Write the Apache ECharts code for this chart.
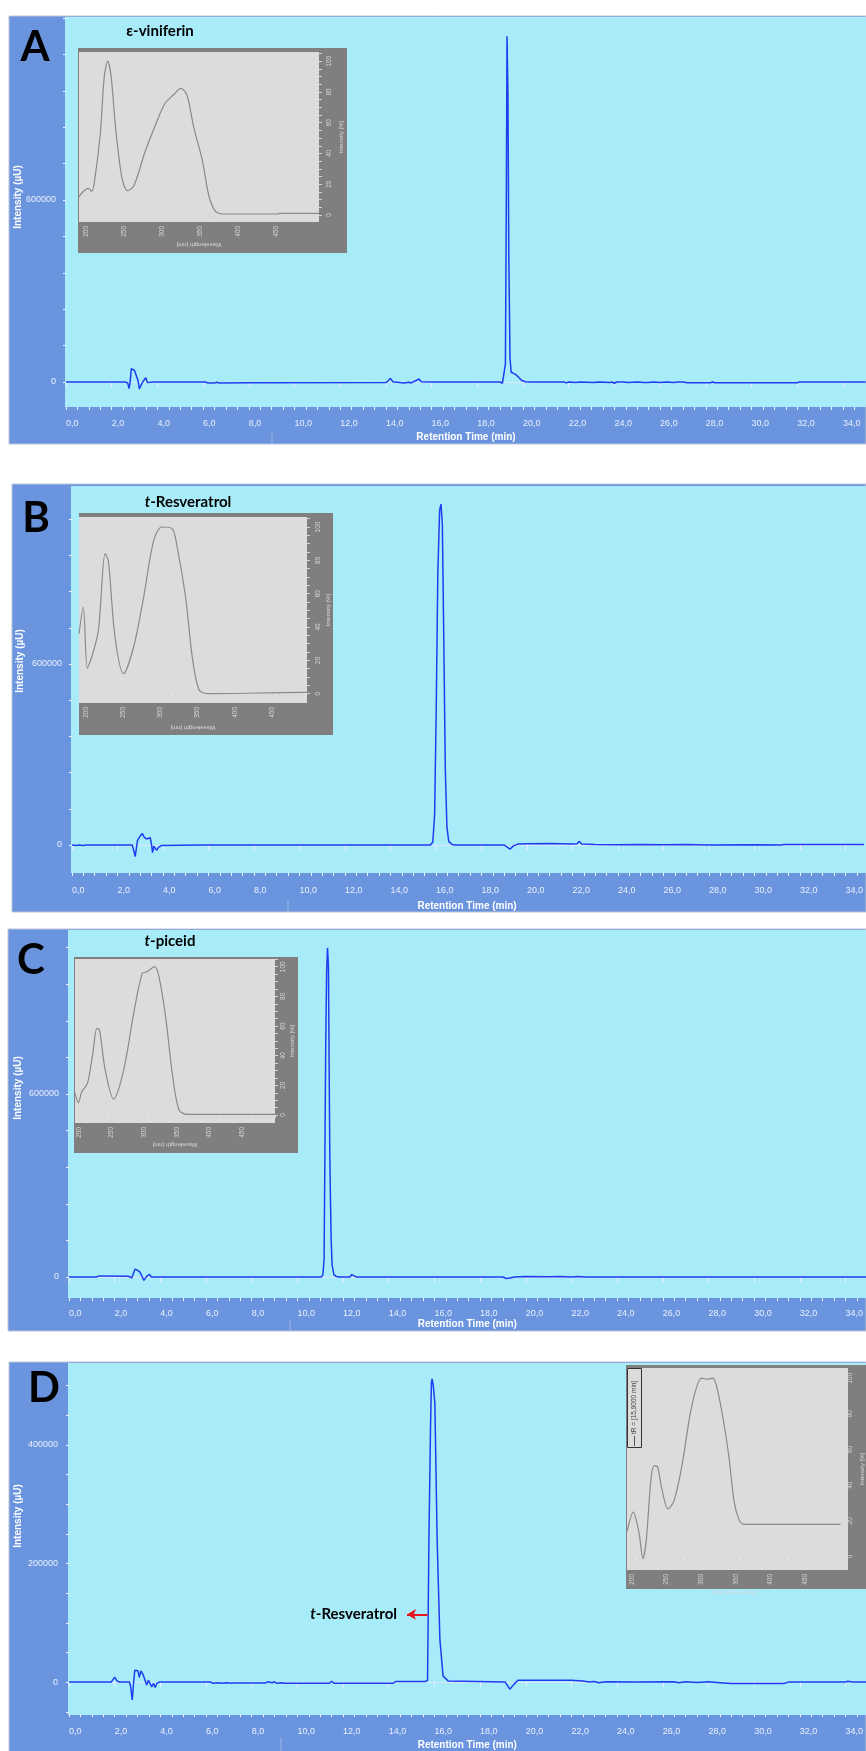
<!DOCTYPE html>
<html><head><meta charset="utf-8">
<script src="https://cdn.jsdelivr.net/npm/echarts@6/dist/echarts.min.js"></script>
<style>html,body{margin:0;padding:0;background:#fff}#c{width:866px;height:1751px}</style>
</head><body><div id="c"></div>
<script>
// ---------- DATA ----------
// Chromatograms: [retention time (min), intensity (µU)]
const chromA = [[0,0],[2.6,0],[2.7,-3000],[2.76,-22000],[2.8,-5000],[2.86,44000],[2.92,42000],[3.0,38000],[3.08,32000],[3.15,5000],[3.21,-23000],[3.3,-8000],[3.4,5000],[3.49,14000],[3.56,-2000],[3.62,-8000],[3.7,-1000],[3.8,0],[6.1,0],[6.2,-3000],[6.5,-3000],[6.6,-1000],[6.7,-3000],[8.0,-2500],[14.0,-2000],[14.1,4000],[14.2,12000],[14.3,1000],[14.6,-2000],[14.8,-3500],[15.0,-1000],[15.1,-3000],[15.3,4000],[15.45,10000],[15.55,1000],[16.0,0],[19.0,0],[19.1,-4000],[19.18,-7000],[19.23,60000],[19.27,600000],[19.3,1140000],[19.34,950000],[19.38,400000],[19.43,80000],[19.48,32000],[19.55,27000],[19.65,26000],[19.75,20000],[19.85,12000],[19.95,5000],[20.1,1000],[20.3,0],[21.3,0],[21.35,2000],[21.4,0],[21.8,0],[21.9,-3000],[22.0,0],[22.3,-2000],[22.5,0],[23.1,-1500],[23.3,0],[23.8,-2000],[23.9,0],[24.0,-4000],[24.1,0],[24.4,0],[24.6,-2000],[25.0,0],[25.3,-2000],[25.5,-2000],[25.7,0],[26.0,-2000],[26.3,0],[26.6,-2000],[26.8,0],[27.0,0],[27.2,-2500],[28.2,-2500],[28.3,0],[28.4,-2500],[32.0,-2500],[32.1,0],[35.0,0]];
const chromB = [[0,0],[0.2,-2000],[0.3,0],[0.5,-2000],[0.6,0],[2.65,0],[2.72,-5000],[2.78,-38000],[2.83,-10000],[2.88,15000],[3.0,30000],[3.09,38000],[3.18,25000],[3.27,20000],[3.35,22000],[3.44,24000],[3.5,0],[3.54,-25000],[3.6,-4000],[3.65,-2000],[3.72,-18000],[3.8,-8000],[3.92,-2000],[4.0,0],[5.6,0],[5.65,-2500],[5.75,0],[15.76,0],[15.86,10000],[15.94,100000],[16.01,450000],[16.08,900000],[16.16,1110000],[16.22,1130000],[16.28,1060000],[16.34,700000],[16.41,250000],[16.48,60000],[16.56,12000],[16.7,2000],[16.85,0],[19.0,0],[19.15,-8000],[19.25,-14000],[19.4,-3000],[19.6,3000],[20.0,4000],[21.0,5000],[21.5,4000],[22.0,3000],[22.2,4000],[22.3,12000],[22.4,3000],[23.0,2000],[24.0,1000],[25.0,2000],[26.0,1000],[27.0,1500],[28.0,0],[30.0,500],[31.2,0],[31.3,2000],[35,2000]];
const chromC = [[0,0],[1.2,0],[1.3,3000],[1.5,3000],[1.55,2500],[2.6,2500],[2.75,-3000],[2.8,-6500],[2.89,26000],[3.0,22000],[3.1,17000],[3.18,5000],[3.28,-11000],[3.4,2000],[3.52,9000],[3.6,0],[3.65,-5000],[3.75,0],[11.05,0],[11.12,8000],[11.17,60000],[11.2,350000],[11.24,750000],[11.28,1000000],[11.32,1079000],[11.36,1020000],[11.39,700000],[11.42,400000],[11.45,250000],[11.48,120000],[11.52,40000],[11.6,8000],[11.7,2000],[11.85,0],[12.3,0],[12.38,8000],[12.44,14000],[12.5,3000],[12.6,0],[19.0,0],[19.15,-5000],[19.3,-3000],[19.5,0],[20.0,1500],[21.0,1000],[21.5,2000],[22.0,0],[22.3,1500],[22.6,0],[35,0]];
const chromD = [[0,0],[1.85,0],[2.0,8400],[2.1,2000],[2.2,0],[2.65,0],[2.7,-8000],[2.77,-30000],[2.82,-5000],[2.88,20000],[2.95,17000],[3.02,19000],[3.08,8000],[3.15,19000],[3.25,12000],[3.32,13000],[3.4,-5000],[3.48,3000],[3.56,0],[3.62,-8000],[3.7,-2000],[3.77,-9000],[3.85,-2000],[3.95,0],[6.2,0],[6.3,-2000],[6.5,-1000],[6.7,-2000],[6.9,-1000],[7.1,-2000],[7.2,-1500],[8.6,-1500],[8.7,500],[8.9,-1000],[9.0,500],[9.1,-2000],[9.3,-1000],[9.4,-2000],[11.4,-2000],[11.5,1500],[11.6,-2000],[14.2,-2000],[14.3,1000],[15.6,1000],[15.7,3000],[15.76,240000],[15.83,430000],[15.87,505000],[15.9,511000],[15.95,500000],[16.02,470000],[16.12,240000],[16.24,72000],[16.38,10000],[16.6,2000],[19.1,0],[19.3,-12000],[19.5,-3000],[19.66,3000],[22.0,3000],[22.5,2000],[22.8,0],[23.0,1000],[23.2,-1000],[23.5,500],[24.8,0],[26.5,500],[26.7,-1000],[27.0,500],[27.5,-500],[28.0,500],[28.5,-1000],[29.0,-2500],[31.3,-2500],[31.5,0],[34.0,0],[34.1,1500],[34.3,0],[34.92,0]];

// UV spectra insets: [wavelength (nm), intensity (%)]
const specA = [[190.6,11.9],[196.4,15.2],[203,17.3],[207.6,15.2],[212,24.9],[218.8,53],[224,90],[228.6,100],[233,90],[238.8,57],[245.5,29],[250,19],[255,15.8],[263.4,19.5],[276.8,40],[290,57],[303.6,72.5],[314.7,78],[324.6,82.3],[332.6,78],[341.5,57],[352.7,35.7],[361.6,12],[370.5,2.2],[384,0.6],[451,0.6],[455,1],[506,1]];
const specB = [[190.6,36],[196.4,52],[201.8,15.3],[207.7,22],[216.7,38],[225.7,84],[230,80],[239,34],[250.5,12],[264,28],[277.5,58],[291,92],[302,100],[315.8,99],[322.5,88],[333.8,58],[342.8,22],[351.8,2.4],[363,0],[489,0.8],[497,0.8]];
const specC = [[194.4,14.6],[199.5,8.3],[204.6,15.7],[213.3,21.3],[221.5,41.6],[227.7,58.4],[231.8,57.3],[240.5,30.3],[253.3,10.8],[268.7,30.3],[284,68.5],[297,95.5],[304.6,96.6],[316,100],[322.6,93.3],[332.8,66.3],[343,28],[353.3,3.4],[366,0.4],[500,0.4]];
const specD = [[193.4,14.4],[201.9,24.9],[210.3,13.4],[216,-1.3],[220.7,8.8],[227.7,43.8],[232.4,50.8],[237,50.3],[244,36.5],[252,26.7],[260.6,31],[272.3,51],[286.4,84.3],[300.5,100],[307.5,99.4],[316.9,100],[324,92.6],[333.3,73.3],[340.4,54.9],[347.4,31],[354.5,20.8],[361.5,18],[501,18]];

// Tick labels
const rtLabels = [0,2,4,6,8,10,12,14,16,18,20,22,24,26,28,30,32,34];
const yTicksABC = [0,120000,240000,360000,480000,600000,720000,840000,960000,1080000,1200000];
const yLabelsABC = [0,600000];
const yTicksD = [-50000,0,50000,100000,150000,200000,250000,300000,350000,400000,450000,500000];
const yLabelsD = [0,200000,400000];
const wlLabels = [200,250,300,350,400,450];
const pctLabels = [0,20,40,60,80,100];
const panelLetters = ['A','B','C','D'];
const compoundNames = ['ε-viniferin','t-Resveratrol','t-piceid'];
const tR_D = '15,9000';
const arrowD = [[15.7,114000],[14.8,114000]];

// ---------- LAYOUT ----------
const FONT = '"Liberation Sans", Arial, sans-serif';
const TFONT = 'Lato, "Open Sans", sans-serif';
const C_FRAME = '#6a94de', C_PLOT = '#a8ecfa', C_LINE = '#1e3cf0', C_AX = '#eaf0ff';

const panels = [
  {frame:[9,16,857,428], bg:[65,17,801,390], grid:[66,17,800,390], xMax:35.01, yMin:-82418, yMax:1203297,
   yTicks:yTicksABC, yLabels:yLabelsABC, data:chromA, lblMargin:12, nameGap:25, yLabMargin:10,
   deco:[272,432,444], letter:[35,47], yName:[18,197],
   inset:{outer:[78,48,269,205], grid:[79,52,240,170], x:[190.8,506], y:[-4.6,106], data:specA,
          xMargin:4, xNameGap:20, yMargin:7, yNameGap:19}},
  {frame:[12,484,854,428], bg:[71,486,795,387], grid:[72,486,794,387], xMax:34.73, yMin:-92818, yMax:1190055,
   yTicks:yTicksABC, yLabels:yLabelsABC, data:chromB, lblMargin:13, nameGap:28, yLabMargin:10,
   deco:[288,900,912], letter:[36,518], yName:[20,661],
   inset:{outer:[79,513,254,222], grid:[79,517,228,186], x:[190.6,497], y:[-5.6,106], data:specB,
          xMargin:4, xNameGap:22, yMargin:8, yNameGap:18}},
  {frame:[8,929,858,402], bg:[68,930,798,368], grid:[69,930,797,368], xMax:34.88, yMin:-68852, yMax:1137705,
   yTicks:yTicksABC, yLabels:yLabelsABC, data:chromC, lblMargin:11, nameGap:21, yLabMargin:10,
   deco:[290,1320,1331], letter:[31,960], yName:[18,1088],
   inset:{outer:[74,957,224,196], grid:[75,959,200,164], x:[194.3,500], y:[-5.4,105.2], data:specC,
          xMargin:4, xNameGap:19, yMargin:5, yNameGap:14}},
  {frame:[9,1362,857,400], bg:[68,1363,798,352], grid:[69,1363,797,352], xMax:34.88, yMin:-53782, yMax:537815,
   yTicks:yTicksD, yLabels:yLabelsD, data:chromD, lblMargin:13, nameGap:26, yLabMargin:11,
   deco:[281,1738,1751], letter:[44,1388], yName:[18,1516],
   inset:{outer:[626,1365,244,224], grid:[627,1368,221,202], x:[193,501.7], y:[-7.6,105.7], data:specD,
          xMargin:4, xNameGap:20, yMargin:6, yNameGap:18}}
];

const rtMinor = []; for (let v = 0; v <= 35; v += 0.5) rtMinor.push(v);

const option = {animation:false, grid:[], xAxis:[], yAxis:[], series:[], graphic:{elements:[]}};
const G = option.graphic.elements;
const fmtRT = v => v.toFixed(1).replace('.', ',');

panels.forEach((p, i) => {
  G.push({type:'rect', shape:{x:p.frame[0], y:p.frame[1], width:p.frame[2], height:p.frame[3]},
          style:{fill:C_FRAME, stroke:'#b9c3d8', lineWidth:1}, z:-10, silent:true});
  G.push({type:'rect', shape:{x:p.bg[0], y:p.bg[1], width:p.bg[2], height:p.bg[3]},
          style:{fill:C_PLOT}, z:-9, silent:true});
  G.push({type:'line', shape:{x1:p.deco[0], y1:p.deco[1], x2:p.deco[0], y2:p.deco[2]},
          style:{stroke:'#9fb5e6', lineWidth:1}, z:-8, silent:true});

  const gi = option.grid.length;
  option.grid.push({left:p.grid[0], top:p.grid[1], width:p.grid[2], height:p.grid[3]});
  const xi = option.xAxis.length;
  option.xAxis.push({gridIndex:gi, type:'value', position:'bottom', min:0, max:p.xMax,
    axisLine:{show:true, lineStyle:{color:'#dbe5fb', width:1}},
    axisTick:{show:true, customValues:rtLabels, length:5, lineStyle:{color:C_AX}},
    axisLabel:{customValues:rtLabels, formatter:fmtRT, align:'left', color:C_AX, fontSize:9, fontFamily:FONT, margin:p.lblMargin},
    splitLine:{show:false},
    name:'Retention Time (min)', nameLocation:'middle', nameGap:p.nameGap,
    nameTextStyle:{color:'#ffffff', fontWeight:'bold', fontSize:10, fontFamily:FONT}});
  option.xAxis.push({gridIndex:gi, type:'value', position:'bottom', min:0, max:p.xMax,
    axisLine:{show:false}, axisTick:{show:true, customValues:rtMinor, length:3, lineStyle:{color:C_AX}},
    axisLabel:{show:false}, splitLine:{show:false}});
  const yi = option.yAxis.length;
  option.yAxis.push({gridIndex:gi, type:'value', min:p.yMin, max:p.yMax,
    axisLine:{show:false},
    axisTick:{show:true, customValues:p.yTicks, length:3, lineStyle:{color:C_AX}},
    axisLabel:{customValues:p.yLabels, formatter:v => String(v), color:C_AX, fontSize:9, fontFamily:FONT, margin:p.yLabMargin},
    splitLine:{show:false}});
  const s = {type:'line', xAxisIndex:xi, yAxisIndex:yi, data:p.data, showSymbol:false, symbol:'none',
    lineStyle:{color:C_LINE, width:1.5}, silent:true, z:3};
  if (i === 3) {
    s.markLine = {silent:true, symbol:['none','arrow'], symbolSize:[8,9], label:{show:false},
      lineStyle:{color:'#e8141e', width:2, type:'solid'},
      data:[[{coord:arrowD[0]},{coord:arrowD[1]}]]};
  }
  option.series.push(s);

  const ins = p.inset;
  G.push({type:'rect', shape:{x:ins.outer[0], y:ins.outer[1], width:ins.outer[2], height:ins.outer[3]},
          style:{fill:'#7f7f7f'}, z:-8, silent:true});
  G.push({type:'rect', shape:{x:ins.grid[0], y:ins.grid[1], width:ins.grid[2], height:ins.grid[3]},
          style:{fill:'#dcdcdc'}, z:-7, silent:true});
  const wlTicks = []; for (let w = 190; w <= 510; w += 10) if (w >= ins.x[0] && w <= ins.x[1]) wlTicks.push(w);
  const pctTicks = []; for (let q = 0; q <= 105; q += 5) if (q <= ins.y[1]) pctTicks.push(q);
  const gj = option.grid.length;
  option.grid.push({left:ins.grid[0], top:ins.grid[1], width:ins.grid[2], height:ins.grid[3]});
  const xj = option.xAxis.length;
  option.xAxis.push({gridIndex:gj, type:'value', position:'bottom', min:ins.x[0], max:ins.x[1],
    axisLine:{show:false},
    axisTick:{show:true, customValues:wlTicks, length:3, lineStyle:{color:'#d4d4d4'}},
    axisLabel:{customValues:wlLabels, rotate:90, fontSize:6.5, color:'#d8d8d8', fontFamily:FONT, margin:ins.xMargin},
    splitLine:{show:false},
    name:'Wavelength [nm]', nameLocation:'middle', nameGap:ins.xNameGap, nameRotate:180,
    nameTextStyle:{fontSize:6, color:'#d8d8d8', fontFamily:FONT}});
  const yj = option.yAxis.length;
  option.yAxis.push({gridIndex:gj, type:'value', position:'right', min:ins.y[0], max:ins.y[1],
    axisLine:{show:false},
    axisTick:{show:true, customValues:pctTicks, length:3, lineStyle:{color:'#d4d4d4'}},
    axisLabel:{customValues:pctLabels, rotate:90, fontSize:6.5, color:'#d8d8d8', fontFamily:FONT, margin:ins.yMargin},
    splitLine:{show:false},
    name:'Intensity [%]', nameLocation:'middle', nameGap:ins.yNameGap, nameRotate:90,
    nameTextStyle:{fontSize:6, color:'#d8d8d8', fontFamily:FONT}});
  option.series.push({type:'line', xAxisIndex:xj, yAxisIndex:yj, data:ins.data, showSymbol:false, symbol:'none',
    smooth:0.3, lineStyle:{color:'#8a8a8a', width:1.2}, silent:true, z:3});

  G.push({type:'text', x:p.letter[0], y:p.letter[1], z:20, silent:true,
    style:{text:panelLetters[i], font:'bold 42px ' + TFONT, fill:'#000', align:'center', verticalAlign:'middle'}});
  G.push({type:'text', x:p.yName[0], y:p.yName[1], rotation:Math.PI/2, z:20, silent:true,
    style:{text:'Intensity (µU)', font:'bold 10px ' + FONT, fill:'#ffffff', align:'center', verticalAlign:'middle'}});
});

const rich = {i:{fontStyle:'italic', fontWeight:'bold', fontSize:15, fontFamily:TFONT, fill:'#000'},
              n:{fontWeight:'bold', fontSize:15, fontFamily:TFONT, fill:'#000'}};
function titleText(name) {
  return name.startsWith('t-') ? '{i|t}{n|' + name.slice(1) + '}' : '{n|' + name + '}';
}
const titlePos = [[160,31],[188,502],[170,941]];
compoundNames.forEach((n, k) => {
  G.push({type:'text', x:titlePos[k][0], y:titlePos[k][1], z:20, silent:true,
    style:{text:titleText(n), rich:rich, align:'center', verticalAlign:'middle'}});
});
G.push({type:'text', x:397, y:1614, z:20, silent:true,
  style:{text:titleText(compoundNames[1]), rich:rich, align:'right', verticalAlign:'middle'}});
G.push({type:'rect', shape:{x:627.5, y:1368.5, width:14, height:79}, style:{fill:'none', stroke:'#333', lineWidth:1}, z:20, silent:true});
G.push({type:'line', shape:{x1:634.5, y1:1446, x2:634.5, y2:1436}, style:{stroke:'#555', lineWidth:1}, z:20, silent:true});
G.push({type:'text', x:634.5, y:1434, rotation:Math.PI/2, z:20, silent:true,
  style:{text:'tR = [' + tR_D + ' min]', font:'6.5px ' + FONT, fill:'#444', align:'left', verticalAlign:'middle'}});

const chart = echarts.init(document.getElementById('c'), null, {renderer:'canvas', width:866, height:1751});
chart.setOption(option);
</script></body></html>
